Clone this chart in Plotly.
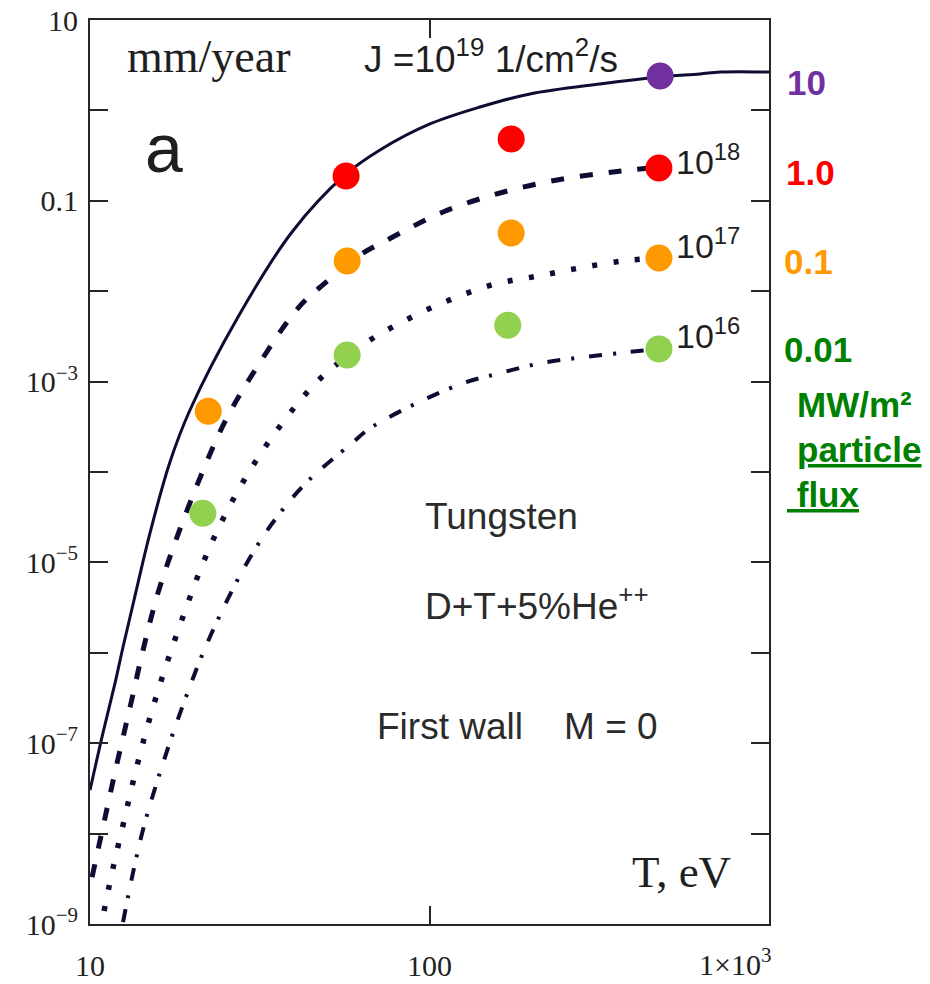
import plotly.graph_objects as go

# Erosion rate of tungsten (mm/year) vs plasma temperature T (eV)
# for incident particle flux J = 1e19 ... 1e16 1/cm^2/s

T_19 = [10.0, 10.92, 11.85, 12.51, 13.48, 15.02, 17.20, 19.70, 27.29, 39.36,
        56.37, 71.47, 100.3, 140.8, 197.7, 317.5, 477.5, 626.2, 717.4, 1000.0]
Y_19 = [3.03e-8, 1.30e-7, 4.63e-7, 1.16e-6, 3.84e-6, 2.11e-5, 1.29e-4, 4.85e-4,
        5.19e-3, 0.0452, 0.193, 0.365, 0.708, 1.09, 1.52, 1.96, 2.34, 2.53, 2.66, 2.66]

T_18 = [10.14, 11.0, 12.01, 13.12, 14.33, 15.86, 18.04, 21.09, 25.15, 31.24,
        41.0, 49.2, 62.4, 75.0, 109.6, 161.3, 237.5, 347.2, 477.5]
Y_18 = [3.3e-9, 1.34e-8, 6.0e-8, 2.5e-7, 1.07e-6, 4.6e-6, 1.9e-5, 8.6e-5, 3.8e-4,
        1.5e-3, 6.5e-3, 0.0123, 0.0251, 0.0368, 0.0752, 0.122, 0.170, 0.208, 0.237]

T_17 = [11.0, 11.69, 12.51, 13.39, 14.42, 15.65, 17.20, 19.05, 21.23, 24.15,
        28.23, 33.90, 42.42, 48.90, 65.45, 87.6, 116.5, 155.9, 208.7, 277.6,
        371.5, 474.3]
Y_17 = [1.39e-9, 4.16e-9, 1.24e-8, 3.72e-8, 1.11e-7, 3.24e-7, 9.70e-7, 2.90e-6,
        8.67e-6, 2.59e-5, 7.75e-5, 2.26e-4, 6.76e-4, 1.18e-3, 2.74e-3, 5.06e-3,
        8.20e-3, 0.0120, 0.0147, 0.0181, 0.0216, 0.0233]

T_16 = [12.51, 13.48, 14.42, 15.75, 17.32, 19.17, 21.52, 24.48, 28.42, 34.13,
        43.27, 58.72, 67.71, 121.3, 161.3, 214.5, 287.1, 384.3, 474.3]
Y_16 = [1.05e-9, 4.16e-9, 1.21e-8, 3.72e-8, 1.11e-7, 3.24e-7, 9.95e-7, 2.90e-6,
        8.67e-6, 2.59e-5, 7.55e-5, 2.04e-4, 3.15e-4, 9.16e-4, 1.24e-3, 1.61e-3,
        1.87e-3, 2.12e-3, 2.30e-3]

# Operating points, grouped by heat load (MW/m^2)
PTS_10_T, PTS_10_Y = [478.0], [2.4]
PTS_1_T, PTS_1_Y = [56.8, 174.0, 474.0], [0.188, 0.483, 0.231]
PTS_01_T, PTS_01_Y = [22.3, 57.2, 174.0, 474.0], [4.7e-4, 0.0216, 0.044, 0.0233]
PTS_001_T, PTS_001_Y = [21.5, 57.2, 170.0, 474.0], [3.5e-5, 1.97e-3, 4.2e-3, 2.3e-3]

Y_TICKS = [1e-9, 1e-8, 1e-7, 1e-6, 1e-5, 1e-4, 1e-3, 1e-2, 1e-1, 1, 10]
Y_TICKTEXT = ["10<sup>\u22129</sup>", "", "10<sup>\u22127</sup>", "",
              "10<sup>\u22125</sup>", "", "10<sup>\u22123</sup>", "", "0.1", "", "10"]
X_TICKS = [10, 100, 1000]
X_TICKTEXT = ["10", "100", ""]

INK = "#0d0d33"
AXIS = "#262626"
SERIF = "Liberation Serif, Times New Roman, serif"
SANS = "Liberation Sans, Arial, sans-serif"
PURPLE, RED, ORANGE, GREEN_DOT, GREEN_TXT = "#7030A0", "#FF0000", "#FF9900", "#92D050", "#008000"

fig = go.Figure()

curves = [
    (T_19, Y_19, 3, "solid"),
    (T_18, Y_18, 5, "13px,16px"),
    (T_17, Y_17, 5.5, "5px,16.5px"),
    (T_16, Y_16, 4, "13px,11px,3px,15px"),
]
for tx, ty, w, d in curves:
    fig.add_trace(go.Scatter(
        x=tx, y=ty, mode="lines",
        line=dict(color=INK, width=w, dash=d, shape="spline", smoothing=1.0),
        hoverinfo="skip", showlegend=False))

for tx, ty, c in [(PTS_10_T, PTS_10_Y, PURPLE), (PTS_1_T, PTS_1_Y, RED),
                  (PTS_01_T, PTS_01_Y, ORANGE), (PTS_001_T, PTS_001_Y, GREEN_DOT)]:
    fig.add_trace(go.Scatter(
        x=tx, y=ty, mode="markers",
        marker=dict(size=27, color=c, line=dict(width=0)),
        showlegend=False, cliponaxis=False))

L, R, TOP, BOT = 90, 769, 20, 924


def px(x):
    return (x - L) / (R - L)


def py(y):
    return (BOT - y) / (BOT - TOP)


def note(text, x, y, size, color="#1f1f1f", family=SANS, xa="center", ya="middle"):
    fig.add_annotation(text=text, x=px(x), y=py(y), xref="paper", yref="paper",
                       xanchor=xa, yanchor=ya, showarrow=False,
                       font=dict(family=family, size=size, color=color))


note("mm/year", 209, 57, 46, family=SERIF)
note("J =10<sup>19</sup> 1/cm<sup>2</sup>/s", 362, 57, 37, xa="left")
note("a", 164, 148, 68)
note("10<sup>18</sup>", 674, 159, 34, xa="left")
note("10<sup>17</sup>", 674, 243, 34, xa="left")
note("10<sup>16</sup>", 674, 333, 34, xa="left")
note("Tungsten", 423, 516, 37, color="#2b2b2b", xa="left")
note("D+T+5%He<sup>++</sup>", 423, 603, 37, color="#2b2b2b", xa="left")
note("First wall\u00a0\u00a0\u00a0\u00a0M = 0", 375, 726, 37, color="#2b2b2b", xa="left")
note("T, eV", 733, 872, 45, family=SERIF, xa="right")
note("1\u00d710<sup>3</sup>", 773, 962, 30, family=SERIF, xa="right")

note("<b>10</b>", 806, 83, 35, color=PURPLE)
note("<b>1.0</b>", 810, 172, 35, color=RED)
note("<b>0.1</b>", 808, 261, 35, color=ORANGE)
note("<b>0.01</b>", 818, 350, 35, color=GREEN_TXT)
note("<b>MW/m\u00b2</b>", 795, 404, 35, color=GREEN_TXT, xa="left")
note("<b><u>particle</u></b>", 795, 449, 35, color=GREEN_TXT, xa="left")
note("<b><u>\u00a0flux</u></b>", 785, 494, 35, color=GREEN_TXT, xa="left")

axis_common = dict(
    type="log", showline=True, linecolor=AXIS, linewidth=2, mirror="allticks",
    ticks="inside", ticklen=18, tickwidth=2, tickcolor=AXIS,
    showgrid=False, zeroline=False, automargin=False,
    tickfont=dict(family=SERIF, size=30, color="#222222"),
)

fig.update_layout(
    width=930, height=984,
    margin=dict(l=L, r=930 - R, t=TOP, b=984 - BOT, autoexpand=False),
    paper_bgcolor="white", plot_bgcolor="white",
    xaxis=dict(range=[1, 3], tickvals=X_TICKS, ticktext=X_TICKTEXT,
               ticklabelstandoff=14, **axis_common),
    yaxis=dict(range=[-9, 1], tickvals=Y_TICKS, ticktext=Y_TICKTEXT,
               ticklabelstandoff=4, **axis_common),
    showlegend=False,
)

fig.write_html("out.html")
